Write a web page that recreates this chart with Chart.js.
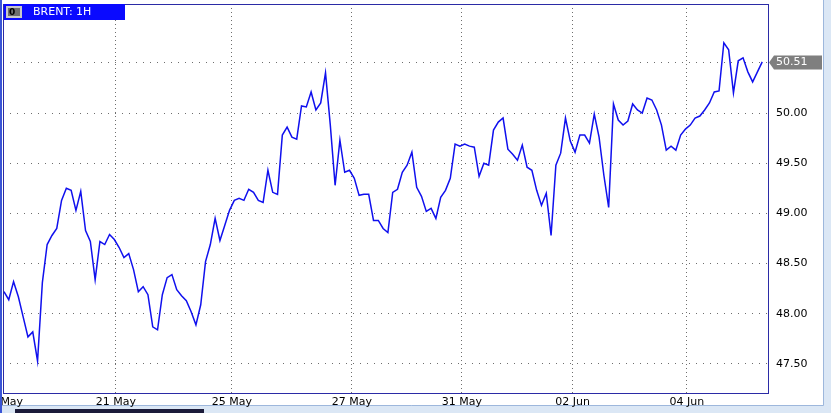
<!DOCTYPE html>
<html lang="en">
<head>
  <meta charset="UTF-8">
  <title>BRENT: 1H</title>
  <script src="https://cdn.jsdelivr.net/npm/chart.js"></script>
  <style>
    html, body { margin: 0; padding: 0; background: #ffffff; }
  </style>
</head>
<body>
  <canvas id="brentChart" width="831" height="413"></canvas>

  <script>
    // BRENT hourly close, one value every 2 bars
    const prices = [
      48.22, 48.14, 48.32, 48.17, 47.97, 47.77, 47.82, 47.53, 48.31, 48.69,
      48.78, 48.85, 49.13, 49.25, 49.23, 49.03, 49.22, 48.83, 48.72, 48.34,
      48.72, 48.69, 48.79, 48.74, 48.66, 48.56, 48.60, 48.44, 48.22, 48.27,
      48.19, 47.87, 47.84, 48.19, 48.36, 48.39, 48.24, 48.18, 48.13, 48.02,
      47.89, 48.09, 48.52, 48.69, 48.95, 48.73, 48.88, 49.03, 49.13, 49.15,
      49.13, 49.24, 49.21, 49.13, 49.11, 49.43, 49.21, 49.19, 49.78, 49.86,
      49.76, 49.74, 50.07, 50.06, 50.21, 50.03, 50.10, 50.40, 49.88, 49.28,
      49.73, 49.41, 49.43, 49.35, 49.18, 49.19, 49.19, 48.93, 48.93, 48.85,
      48.81, 49.21, 49.24, 49.41, 49.48, 49.61, 49.26, 49.17, 49.02, 49.05,
      48.95, 49.16, 49.23, 49.35, 49.69, 49.67, 49.69, 49.67, 49.66, 49.37,
      49.50, 49.48, 49.83, 49.91, 49.95, 49.64, 49.59, 49.53, 49.68, 49.46,
      49.43, 49.23, 49.08, 49.20, 48.78, 49.48, 49.60, 49.95, 49.72, 49.61,
      49.78, 49.78, 49.70, 49.99, 49.76, 49.38, 49.06, 50.09, 49.93, 49.88,
      49.92, 50.09, 50.03, 50.00, 50.15, 50.13, 50.03, 49.88, 49.63, 49.67,
      49.63, 49.78, 49.84, 49.88, 49.95, 49.97, 50.03, 50.10, 50.21, 50.22,
      50.70, 50.63, 50.20, 50.52, 50.55, 50.41, 50.31, 50.41, 50.51
    ];

    // date ticks on the time axis (position in data points)
    const tickPos = [-0.2, 23.3, 47.5, 72.5, 95.4, 118.5, 142.3];
    const tickLabels = ["19 May", "21 May", "25 May", "27 May", "31 May", "02 Jun", "04 Jun"];

    // price ticks
    const priceTicks = [47.5, 48.0, 48.5, 49.0, 49.5, 50.0, 50.5];

    const symbol = "BRENT: 1H";
    const lastPrice = prices[prices.length - 1];

    const chartFont = { family: "DejaVu Sans", size: 11 };

    // window frame, plot border, header box and last price tag
    const terminalDecor = {
      id: "terminalDecor",
      beforeDraw(chart) {
        const ctx = chart.ctx;
        ctx.save();
        ctx.fillStyle = "#ffffff";
        ctx.fillRect(0, 0, chart.width, chart.height);
        // light blue window edges
        ctx.fillStyle = "#dbe7f5";
        ctx.fillRect(823, 0, 8, chart.height);
        ctx.fillRect(0, 405, chart.width, 8);
        ctx.strokeStyle = "#9db7dc";
        ctx.lineWidth = 1;
        ctx.beginPath();
        ctx.moveTo(823.5, 0); ctx.lineTo(823.5, 405.5); ctx.lineTo(0, 405.5);
        ctx.stroke();
        // scroll bar
        ctx.fillStyle = "#1b1b3a";
        ctx.fillRect(15, 409, 189, 4);
        ctx.restore();
      },
      afterDraw(chart) {
        const { ctx, chartArea } = chart;
        const yScale = chart.scales.y;
        ctx.save();
        // left window line
        ctx.fillStyle = "#3a55d6";
        ctx.fillRect(0, 0, 2, 413);
        // plot border
        ctx.strokeStyle = "#2b2ba6";
        ctx.lineWidth = 1;
        ctx.strokeRect(chartArea.left + 0.5, chartArea.top + 0.5,
          chartArea.right - chartArea.left, chartArea.bottom - chartArea.top);

        // header label
        ctx.fillStyle = "#0a0aff";
        ctx.fillRect(4, 4, 121, 16);
        ctx.fillStyle = "#c8c8c8";
        ctx.fillRect(6, 6, 16, 12);
        ctx.fillStyle = "#6e6e6e";
        ctx.fillRect(8, 8, 12, 8);
        ctx.fillStyle = "#000000";
        ctx.font = "bold 9px DejaVu Sans";
        ctx.textBaseline = "middle";
        ctx.fillText("0", 9, 12.5);
        ctx.fillStyle = "#ffffff";
        ctx.font = "11px DejaVu Sans";
        ctx.fillText(symbol, 33, 12.5);

        // last price tag
        const py = Math.round(yScale.getPixelForValue(lastPrice)) + 0.5;
        ctx.fillStyle = "#7f7f7f";
        ctx.beginPath();
        ctx.moveTo(chartArea.right + 1, py);
        ctx.lineTo(chartArea.right + 6, py - 7);
        ctx.lineTo(822, py - 7);
        ctx.lineTo(822, py + 7);
        ctx.lineTo(chartArea.right + 6, py + 7);
        ctx.closePath();
        ctx.fill();
        ctx.fillStyle = "#ffffff";
        ctx.font = "11px DejaVu Sans";
        ctx.textBaseline = "middle";
        ctx.fillText(lastPrice.toFixed(2), 776, py);
        ctx.restore();
      }
    };

    const ctx = document.getElementById("brentChart").getContext("2d");
    new Chart(ctx, {
      type: "line",
      data: {
        datasets: [
          {
            label: symbol,
            data: prices.map((p, i) => ({ x: i, y: p })),
            borderColor: "#1010ee",
            borderWidth: 1.5,
            pointRadius: 0,
            tension: 0,
            fill: false,
          },
        ],
      },
      plugins: [terminalDecor],
      options: {
        responsive: false,
        animation: false,
        layout: { padding: { left: 3, top: 4, right: 0, bottom: 0 } },
        plugins: {
          legend: { display: false },
          tooltip: { enabled: false },
        },
        scales: {
          x: {
            type: "linear",
            min: -0.2,
            max: 159.2,
            afterBuildTicks(scale) {
              scale.ticks = tickPos.map(v => ({ value: v }));
            },
            afterFit(scale) {
              scale.height = 20;
              scale.paddingLeft = 0;
              scale.paddingRight = 0;
            },
            ticks: {
              autoSkip: false,
              maxRotation: 0,
              padding: 3,
              color: "#000000",
              font: chartFont,
              callback: (value, index) => tickLabels[index],
            },
            grid: {
              color: "#6e6e6e",
              lineWidth: 1,
              drawTicks: false,
            },
            border: { display: false, dash: [1, 3] },
          },
          y: {
            position: "right",
            min: 47.211,
            max: 51.086,
            afterBuildTicks(scale) {
              scale.ticks = priceTicks.map(v => ({ value: v }));
            },
            afterFit(scale) {
              scale.width = 63;
              scale.paddingTop = 0;
              scale.paddingBottom = 0;
            },
            ticks: {
              padding: 8,
              color: "#000000",
              font: chartFont,
              callback: (value) => (value >= 50.5 ? "" : value.toFixed(2)),
            },
            grid: {
              color: "#6e6e6e",
              lineWidth: 1,
              drawTicks: false,
            },
            border: { display: false, dash: [1, 6] },
          },
        },
      },
    });
  </script>
</body>
</html>
